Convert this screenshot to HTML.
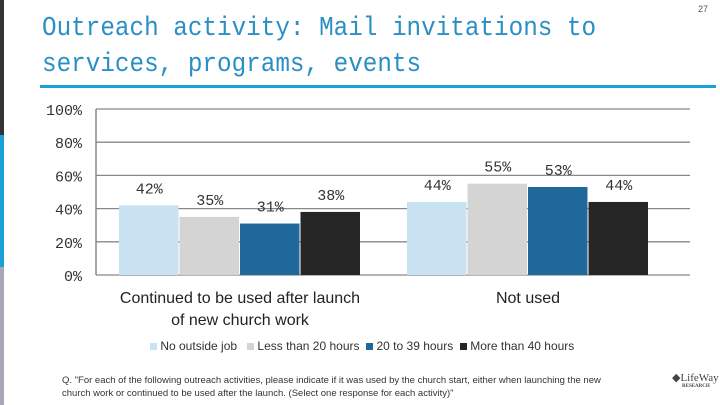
<!DOCTYPE html>
<html><head><meta charset="utf-8"><style>
body{margin:0;width:720px;height:405px;overflow:hidden;background:#fff;font-family:"Liberation Sans",sans-serif;position:relative}
.t{position:absolute}
</style></head><body>
<div class="t" style="left:0;top:0;width:4px;height:135px;background:#333"></div>
<div class="t" style="left:0;top:135px;width:4px;height:132px;background:#1ba1d8"></div>
<div class="t" style="left:0;top:267px;width:4px;height:138px;background:#a8a8b8"></div>
<div class="t" style="left:42px;top:11px;font-family:'Liberation Mono',monospace;font-size:27px;line-height:36px;color:#2a8fc4;transform:scaleX(0.9);transform-origin:0 0;white-space:nowrap">Outreach activity: Mail invitations to<br>services, programs, events</div>
<div class="t" style="left:40px;top:85px;width:676px;height:3px;background:#1ba1d8"></div>
<div class="t" style="left:698px;top:4px;font-size:9px;color:#555">27</div>
<svg class="t" style="left:0;top:0" width="720" height="405" id="svg"></svg>
<div class="t" style="left:150px;top:339px;font-size:12px;color:#333;white-space:nowrap">
<span><span style="display:inline-block;width:7px;height:7px;background:#c9e2f2"></span> No outside job</span>&nbsp;&nbsp;
<span><span style="display:inline-block;width:7px;height:7px;background:#d4d4d4"></span> Less than 20 hours</span>&nbsp;
<span><span style="display:inline-block;width:7px;height:7px;background:#1f6899"></span> 20 to 39 hours</span>&nbsp;
<span><span style="display:inline-block;width:7px;height:7px;background:#262626"></span> More than 40 hours</span></div>
<div class="t" style="left:62px;top:374px;font-size:9.5px;line-height:13px;color:#333;white-space:nowrap">Q. "For each of the following outreach activities, please indicate if it was used by the church start, either when launching the new<br>church work or continued to be used after the launch. (Select one response for each activity)"</div>
<div class="t" style="left:672px;top:371px;font-family:'Liberation Serif',serif;font-size:11px;color:#444">◆LifeWay<div style="font-size:5px;font-weight:bold;margin-left:10px">RESEARCH</div></div>
<script>
const categories=["Continued to be used after launch|of new church work","Not used"];
const series=["No outside job","Less than 20 hours","20 to 39 hours","More than 40 hours"];
const colors=["#c9e2f2","#d4d4d4","#1f6899","#262626"];
const values=[[42,35,31,38],[44,55,53,44]];
const ticks=[0,20,40,60,80,100];
const svg=document.getElementById('svg');const NS="http://www.w3.org/2000/svg";
const x0=96,x1=690,y0=275,y1=109;
const y=v=>y0-(v/100)*(y0-y1);
function mk(t,a){const e=document.createElementNS(NS,t);for(const k in a)e.setAttribute(k,a[k]);svg.appendChild(e);return e;}
ticks.forEach(t=>{const l=mk('line',{x1:x0,x2:x1,y1:y(t),y2:y(t),stroke:'#888','stroke-width':1.3});

const tx=mk('text',{x:82,y:y(t)+6,'text-anchor':'end','font-size':15,fill:'#333','font-family':'Liberation Mono, monospace'});tx.textContent=t+'%';
});
const ax=mk('line',{x1:x0,x2:x0,y1:y1,y2:y0,stroke:'#888','stroke-width':1.5});

const gw=288,bw=60.5,gOff=23;
categories.forEach((c,gi)=>{const gs=x0+gOff+gi*gw;
values[gi].forEach((v,si)=>{const bx=gs+si*bw;
const r=mk('rect',{x:bx,y:y(v),width:bw-1,height:y0-y(v),fill:colors[si]});

const tt=mk('text',{x:bx+bw/2,y:y(v)-12,'text-anchor':'middle','font-size':15,fill:'#333','font-family':'Liberation Mono, monospace'});tt.textContent=v+'%';
});
c.split('|').forEach((ln,li)=>{const t=mk('text',{x:gs+2*bw,y:303+li*22,'text-anchor':'middle','font-size':16,fill:'#222'});t.textContent=ln;
});});
</script>
</body></html>
